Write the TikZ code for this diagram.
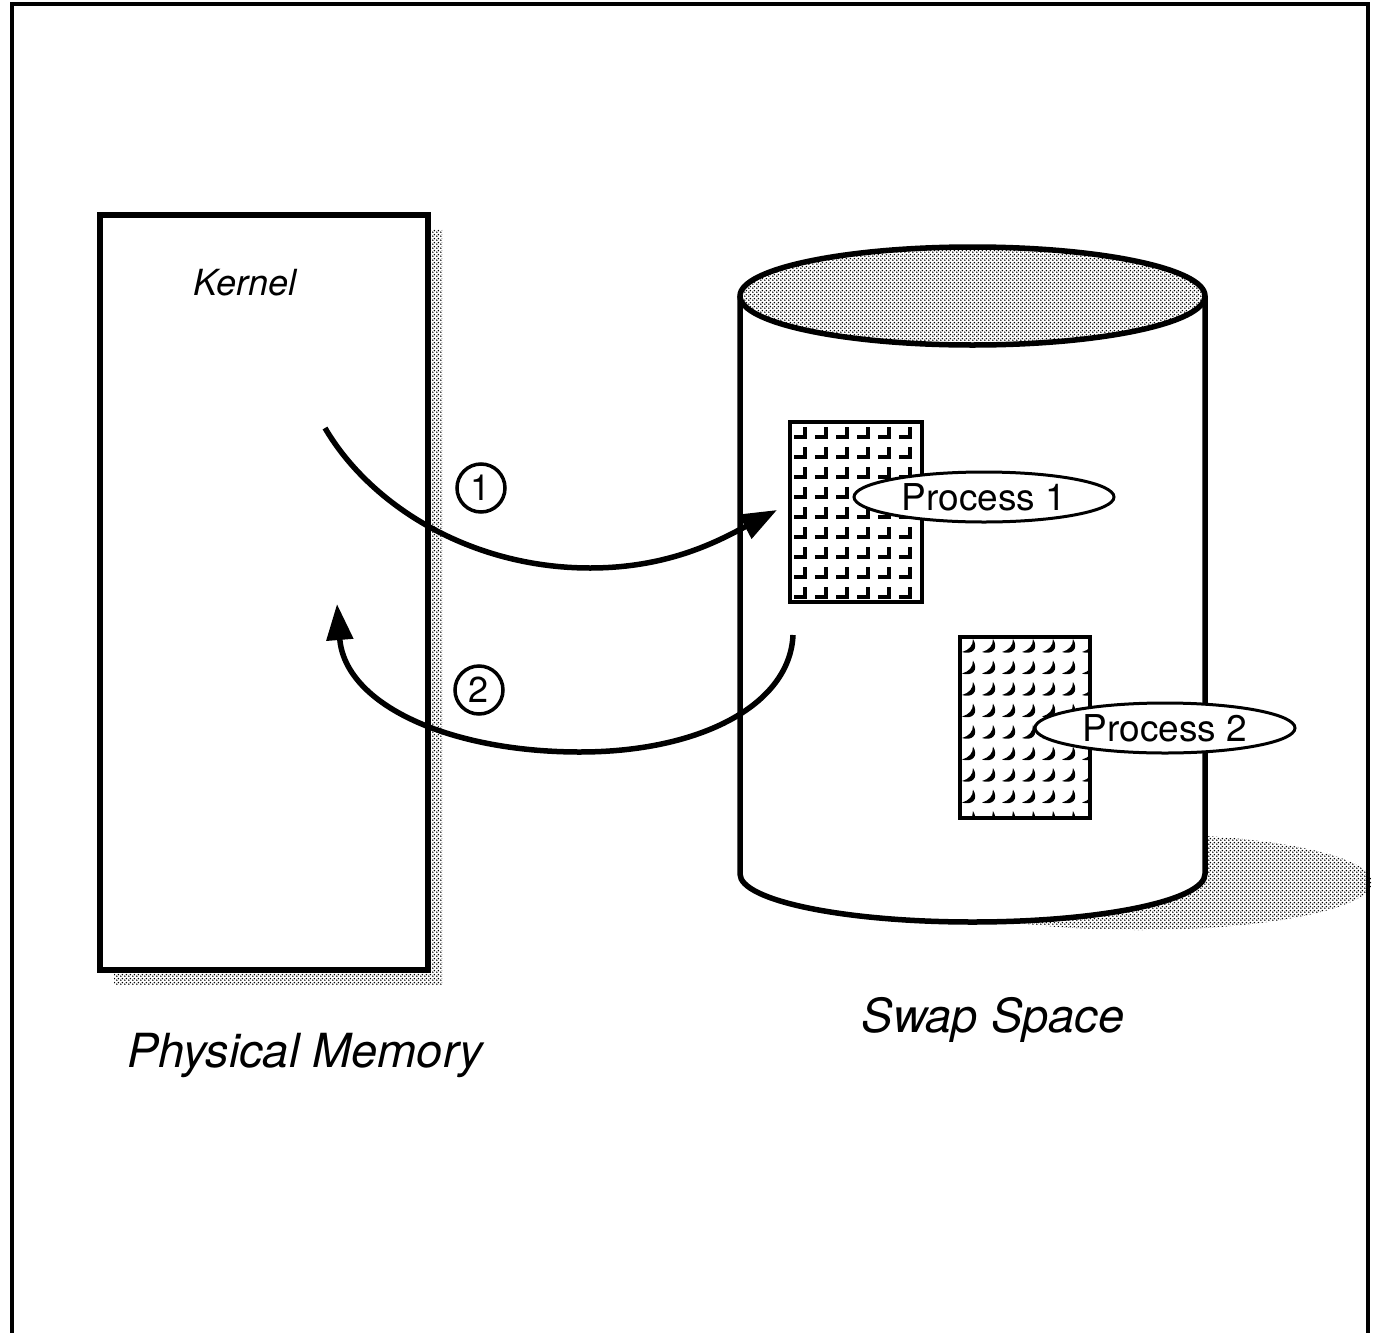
\documentclass[tikz,border=0pt]{standalone}
\usepackage{fontspec}
\setmainfont{TeX Gyre Heros}
\usetikzlibrary{shapes.geometric,arrows.meta,patterns}

% coarse halftone used for the shadows and the disk top
\pgfdeclarepatternformonly{halftone}{\pgfqpoint{0pt}{0pt}}{\pgfqpoint{4pt}{4pt}}{\pgfqpoint{4pt}{4pt}}{
  \pgfpathcircle{\pgfqpoint{1pt}{1pt}}{1pt}
  \pgfpathcircle{\pgfqpoint{3pt}{3pt}}{1pt}
  \pgfusepath{fill}
}

\tikzset{
  heavy/.style={line width=5.5pt},
  dotshade/.style={pattern=halftone, pattern color=black},
  flow/.style={line width=5.5pt, -{Triangle[length=36pt,width=26pt]}},
  tag/.style={ellipse, draw, line width=3pt, fill=white, inner sep=0pt,
              minimum width=260pt, minimum height=50pt,
              font=\fontsize{37}{40}\selectfont},
  step mark/.style={circle, draw, line width=3.5pt, inner sep=0pt,
              minimum size=48pt, font=\fontsize{36}{38}\selectfont},
  caption/.style={font=\fontsize{47}{54}\selectfont\itshape},
}

\begin{document}
\begin{tikzpicture}[x=1pt, y=-1pt]
  \useasboundingbox (0,0) rectangle (1382,1333);

  % outer frame (open at the bottom)
  \draw[line width=4pt] (12,1345) -- (12,4) -- (1368,4) -- (1368,1345);

  % ---- physical memory block with its drop shadow
  \fill[dotshade] (114,229) rectangle (442,984);
  \filldraw[heavy, fill=white] (100,215) rectangle (428,970);
  \node[font=\fontsize{36}{40}\selectfont\itshape] (kernel) at (245,283) {Kernel};
  \node[caption] (physmem) at (305,1055) {Physical Memory};

  % ---- swap disk: ground shadow, body, top face
  \fill[dotshade] (1139,882) ellipse [x radius=233, y radius=48];
  \fill[white] (740,296) rectangle (1205,874);
  \fill[white] (972.5,874) ellipse [x radius=232.5, y radius=48];
  \draw[heavy] (740,296) -- (740,874)
     arc[start angle=180, end angle=0, x radius=232.5, y radius=48]
     -- (1205,296);
  \fill[white] (972.5,296) ellipse [x radius=232.5, y radius=49];
  \fill[dotshade] (972.5,296) ellipse [x radius=232.5, y radius=49];
  \draw[heavy] (972.5,296) ellipse [x radius=232.5, y radius=49];
  \node[caption] (swap) at (993,1020) {Swap Space};

  % ---- process 1 image: hook pattern
  \begin{scope}
    \clip (790,422) rectangle (922,602);
    \foreach \c in {0,...,6} {
      \foreach \r in {0,...,8} {
        \draw[line width=3.5pt]
          ({790+\c*21+4},{422+\r*20+15}) -- ({790+\c*21+15},{422+\r*20+15})
          -- ({790+\c*21+15},{422+\r*20+5});
      }
    }
  \end{scope}
  \draw[line width=4pt] (790,422) rectangle (922,602);

  % ---- process 2 image: crescent pattern
  \begin{scope}
    \clip (960,637) rectangle (1090,818);
    \foreach \c in {0,...,6} {
      \foreach \r in {0,...,8} {
        \pgfmathsetmacro{\px}{960+\c*20}
        \pgfmathsetmacro{\py}{637+\r*21.5}
        \fill ({\px+13},{\py+2})
          .. controls ({\px+19},{\py+12}) and ({\px+12},{\py+18}) .. ({\px+2},{\py+15})
          .. controls ({\px+9},{\py+13}) and ({\px+13},{\py+9}) .. cycle;
      }
    }
  \end{scope}
  \draw[line width=4pt] (960,637) rectangle (1090,818);

  % ---- process labels
  \node[tag] (p1) at (984,497) {Process 1};
  \node[tag] (p2) at (1165,728) {Process 2};

  % ---- swap out (1) and swap in (2)
  \coordinate (outstart) at (325,428);
  \coordinate (outlow)   at (590,568);
  \coordinate (outend)   at (777,510);
  \draw[flow] (outstart) .. controls (370,505) and (470,568) .. (outlow)
              .. controls (670,568) and (720,540) .. (outend);

  \coordinate (instart) at (793,635);
  \coordinate (inlow)   at (580,752);
  \coordinate (inend)   at (337,604);
  \draw[flow] (instart) .. controls (790,705) and (700,752) .. (inlow)
              .. controls (450,752) and (345,705) .. (inend);

  \node[step mark] (n1) at (481,488) {1};
  \node[step mark] (n2) at (479,690) {2};
\end{tikzpicture}
\end{document}
